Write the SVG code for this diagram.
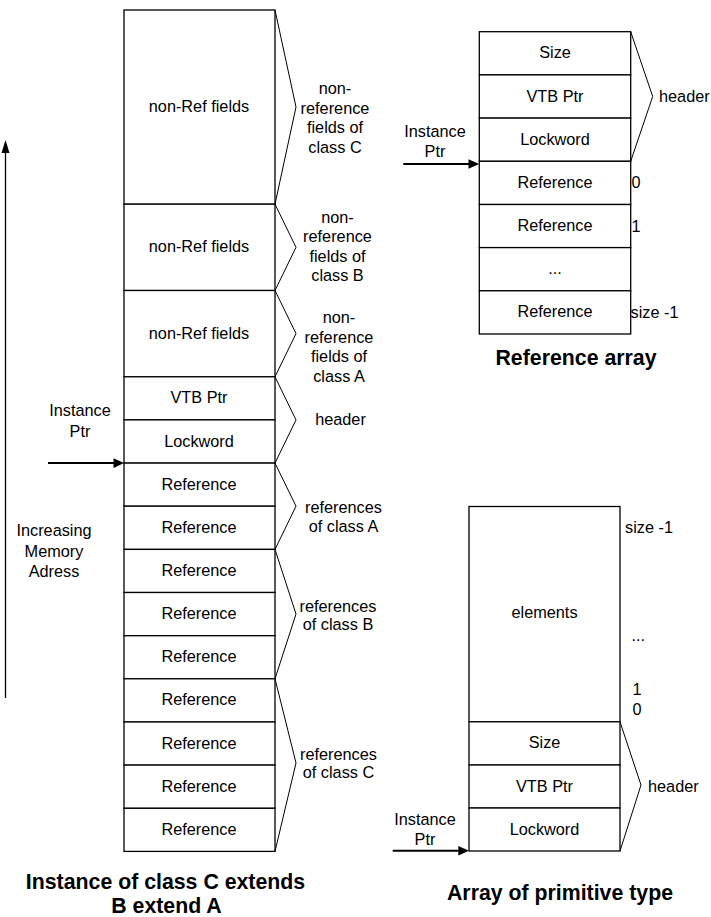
<svg xmlns="http://www.w3.org/2000/svg" width="711" height="917" viewBox="0 0 711 917">
<style>
.box{fill:#fff;stroke:#000;stroke-width:1.3}
.br{fill:none;stroke:#000;stroke-width:1}
.t{font-family:"Liberation Sans",Arial,Helvetica,sans-serif;font-size:16.3px;fill:#000;text-anchor:middle}
.s{text-anchor:start}
.title{font-family:"Liberation Sans",Arial,Helvetica,sans-serif;font-size:21.3px;font-weight:bold;fill:#000;text-anchor:middle}
.ln{fill:none;stroke:#000}
</style>
<rect width="711" height="917" fill="#fff"/>

<!-- Left object layout -->
<g id="obj-nonref-c"><rect class="box" x="124" y="10" width="151" height="194.2"/><text class="t" x="199" y="112">non-Ref fields</text></g>
<g id="obj-nonref-b"><rect class="box" x="124" y="204.2" width="151" height="86.3"/><text class="t" x="199" y="252.4">non-Ref fields</text></g>
<g id="obj-nonref-a"><rect class="box" x="124" y="290.5" width="151" height="86.3"/><text class="t" x="199" y="338.7">non-Ref fields</text></g>
<g id="obj-vtb"><rect class="box" x="124" y="376.8" width="151" height="43.1"/><text class="t" x="199" y="403.4">VTB Ptr</text></g>
<g id="obj-lock"><rect class="box" x="124" y="419.9" width="151" height="43.2"/><text class="t" x="199" y="446.5">Lockword</text></g>
<g id="obj-ref1"><rect class="box" x="124" y="463.1" width="151" height="43.1"/><text class="t" x="199" y="489.7">Reference</text></g>
<g id="obj-ref2"><rect class="box" x="124" y="506.2" width="151" height="43.2"/><text class="t" x="199" y="532.8">Reference</text></g>
<g id="obj-ref3"><rect class="box" x="124" y="549.4" width="151" height="43.1"/><text class="t" x="199" y="576">Reference</text></g>
<g id="obj-ref4"><rect class="box" x="124" y="592.5" width="151" height="43.2"/><text class="t" x="199" y="619.1">Reference</text></g>
<g id="obj-ref5"><rect class="box" x="124" y="635.7" width="151" height="43.1"/><text class="t" x="199" y="662.3">Reference</text></g>
<g id="obj-ref6"><rect class="box" x="124" y="678.8" width="151" height="43.2"/><text class="t" x="199" y="705.4">Reference</text></g>
<g id="obj-ref7"><rect class="box" x="124" y="722" width="151" height="43.1"/><text class="t" x="199" y="748.6">Reference</text></g>
<g id="obj-ref8"><rect class="box" x="124" y="765.1" width="151" height="43.2"/><text class="t" x="199" y="791.7">Reference</text></g>
<g id="obj-ref9"><rect class="box" x="124" y="808.3" width="151" height="43.1"/><text class="t" x="199" y="834.9">Reference</text></g>

<g id="brace-nonref-c"><polyline class="br" points="275,10 296,107 275,204.2"/>
<text class="t" x="335" y="94">non-</text><text class="t" x="335" y="113.5">reference</text><text class="t" x="335" y="133">fields of</text><text class="t" x="335" y="152.5">class C</text></g>
<g id="brace-nonref-b"><polyline class="br" points="275,204.2 296,247.3 275,290.5"/>
<text class="t" x="337.5" y="222.5">non-</text><text class="t" x="337.5" y="242">reference</text><text class="t" x="337.5" y="261.5">fields of</text><text class="t" x="337.5" y="281">class B</text></g>
<g id="brace-nonref-a"><polyline class="br" points="275,290.5 296,333.6 275,376.8"/>
<text class="t" x="339" y="323">non-</text><text class="t" x="339" y="342.5">reference</text><text class="t" x="339" y="362">fields of</text><text class="t" x="339" y="381.5">class A</text></g>
<g id="brace-header"><polyline class="br" points="275,376.8 296,419.9 275,463.1"/>
<text class="t" x="340.5" y="425">header</text></g>
<g id="brace-refs-a"><polyline class="br" points="275,463.1 296,506.2 275,549.4"/>
<text class="t" x="343.5" y="513">references</text><text class="t" x="343.5" y="531.5">of class A</text></g>
<g id="brace-refs-b"><polyline class="br" points="275,549.4 296,614 275,678.8"/>
<text class="t" x="338" y="611.7">references</text><text class="t" x="338" y="630.2">of class B</text></g>
<g id="brace-refs-c"><polyline class="br" points="275,678.8 296,763 275,851.4"/>
<text class="t" x="338.5" y="759.5">references</text><text class="t" x="338.5" y="778">of class C</text></g>

<g id="label-left-ptr"><text class="t" x="80" y="416">Instance</text><text class="t" x="80" y="436.5">Ptr</text></g>
<g id="label-memory"><text class="t" x="54" y="536">Increasing</text><text class="t" x="54" y="556.5">Memory</text><text class="t" x="54" y="577">Adress</text></g>
<g id="title-left"><text class="title" x="165.5" y="889">Instance of class C extends</text><text class="title" x="166.5" y="912.5">B extend A</text></g>

<!-- Reference array -->
<g id="ra-size"><rect class="box" x="479.3" y="31.7" width="151.4" height="43.2"/><text class="t" x="555" y="58.3">Size</text></g>
<g id="ra-vtb"><rect class="box" x="479.3" y="74.9" width="151.4" height="43.2"/><text class="t" x="555" y="101.5">VTB Ptr</text></g>
<g id="ra-lock"><rect class="box" x="479.3" y="118.1" width="151.4" height="43.2"/><text class="t" x="555" y="144.7">Lockword</text></g>
<g id="ra-ref0"><rect class="box" x="479.3" y="161.3" width="151.4" height="43.2"/><text class="t" x="555" y="187.9">Reference</text></g>
<g id="ra-ref1"><rect class="box" x="479.3" y="204.5" width="151.4" height="43.1"/><text class="t" x="555" y="231">Reference</text></g>
<g id="ra-dots"><rect class="box" x="479.3" y="247.6" width="151.4" height="43.2"/><text class="t" x="555" y="274.2">...</text></g>
<g id="ra-refn"><rect class="box" x="479.3" y="290.8" width="151.4" height="43.2"/><text class="t" x="555" y="317.4">Reference</text></g>
<g id="ra-brace"><polyline class="br" points="630.7,31.7 652.7,96.5 630.7,161.3"/><text class="t s" x="659" y="102">header</text></g>
<g id="ra-idx"><text class="t s" x="631.5" y="188">0</text><text class="t s" x="631.5" y="231.5">1</text><text class="t s" x="630.5" y="317.5">size -1</text></g>
<g id="ra-ptr-label"><text class="t" x="435" y="136.5">Instance</text><text class="t" x="435" y="156.5">Ptr</text></g>
<g id="title-ra"><text class="title" x="576" y="365">Reference array</text></g>

<!-- Array of primitive type -->
<g id="pa-elements"><rect class="box" x="469" y="506.5" width="151" height="215.3"/><text class="t" x="544.5" y="618.2">elements</text></g>
<g id="pa-size"><rect class="box" x="469" y="721.8" width="151" height="43.2"/><text class="t" x="544.5" y="748.4">Size</text></g>
<g id="pa-vtb"><rect class="box" x="469" y="765" width="151" height="43"/><text class="t" x="544.5" y="791.5">VTB Ptr</text></g>
<g id="pa-lock"><rect class="box" x="469" y="808" width="151" height="43"/><text class="t" x="544.5" y="834.5">Lockword</text></g>
<g id="pa-brace"><polyline class="br" points="620,721.8 641,785 620,851"/><text class="t s" x="648" y="791.7">header</text></g>
<g id="pa-idx"><text class="t s" x="625" y="533">size -1</text><text class="t s" x="631.5" y="641">...</text><text class="t s" x="632.5" y="695">1</text><text class="t s" x="632.5" y="715">0</text></g>
<g id="pa-ptr-label"><text class="t" x="425" y="825">Instance</text><text class="t" x="425" y="845">Ptr</text></g>
<g id="title-pa"><text class="title" x="560" y="900">Array of primitive type</text></g>

<!-- Connectors -->
<g id="connectors">
<line class="ln" x1="5.5" y1="698" x2="5.5" y2="151" stroke-width="1.3"/>
<polygon points="5.5,140 9.5,153 1.5,153" fill="#000"/>
<line class="ln" x1="48" y1="463.1" x2="115" y2="463.1" stroke-width="2"/>
<polygon points="124,463.1 113.5,458.3 113.5,467.9" fill="#000"/>
<line class="ln" x1="403.3" y1="164" x2="470" y2="164" stroke-width="2"/>
<polygon points="479.3,164 468.5,159.2 468.5,168.8" fill="#000"/>
<line class="ln" x1="392.7" y1="850.7" x2="460" y2="850.7" stroke-width="2"/>
<polygon points="469,850.7 458.3,845.9 458.3,855.5" fill="#000"/>
</g>
</svg>
